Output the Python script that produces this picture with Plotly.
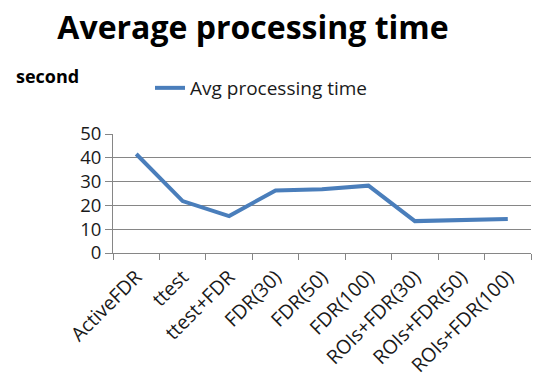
import plotly.graph_objects as go

# Average processing time per method (seconds)
methods = ["ActiveFDR", "ttest", "ttest+FDR", "FDR(30)", "FDR(50)", "FDR(100)",
           "ROIs+FDR(30)", "ROIs+FDR(50)", "ROIs+FDR(100)"]
avg_time = [41.6, 21.8, 15.5, 26.3, 26.8, 28.3, 13.4, 13.9, 14.3]
y_ticks = [0, 10, 20, 30, 40, 50]

FONT = "Open Sans, sans-serif"
W, H = 533, 381
L, R, T, B = 113, 2, 134, 128

fig = go.Figure()
fig.add_trace(go.Scatter(
    x=methods, y=avg_time, mode="lines", name="Avg processing time",
    line=dict(color="#4A7EBB", width=4),
))

fig.update_layout(
    width=W, height=H,
    margin=dict(l=L, r=R, t=T, b=B, autoexpand=False),
    paper_bgcolor="white", plot_bgcolor="white",
    font=dict(family=FONT, color="#000000"),
    title=dict(text="<b>Average processing time</b>", x=253 / W, xanchor="center",
               y=1 - 28 / H, yanchor="middle",
               font=dict(size=32, family=FONT, color="#000000")),
    showlegend=True,
    legend=dict(orientation="h", x=(150 - L) / (W - L - R), xanchor="left",
                y=1 + (T - 88) / (H - T - B), yanchor="middle",
                font=dict(size=19, family=FONT, color="#1a1a1a"),
                bgcolor="rgba(0,0,0,0)"),
    xaxis=dict(
        type="category", range=[-0.5, len(methods) - 0.5], automargin=False,
        tickson="boundaries", ticks="outside", ticklen=6, tickcolor="#868686",
        showline=True, linecolor="#868686", linewidth=1,
        showgrid=False, tickangle=-45, ticklabelstandoff=4,
        tickfont=dict(size=19.5, family=FONT, color="#1a1a1a"),
    ),
    yaxis=dict(
        range=[0, 50], tickvals=y_ticks, ticks="outside", ticklen=7,
        automargin=False,
        tickcolor="#868686", showline=True, linecolor="#868686", linewidth=1,
        showgrid=True, gridcolor="#868686", gridwidth=1, zeroline=False,
        tickfont=dict(size=18.5, family=FONT, color="#1a1a1a"),
    ),
    annotations=[dict(text="<b>second</b>", xref="paper", yref="paper",
                      x=(47 - L) / (W - L - R), y=1 + (T - 76) / (H - T - B),
                      xanchor="center", yanchor="middle", showarrow=False,
                      font=dict(size=18, family=FONT, color="#000000"))],
)

fig.write_html("out.html")
